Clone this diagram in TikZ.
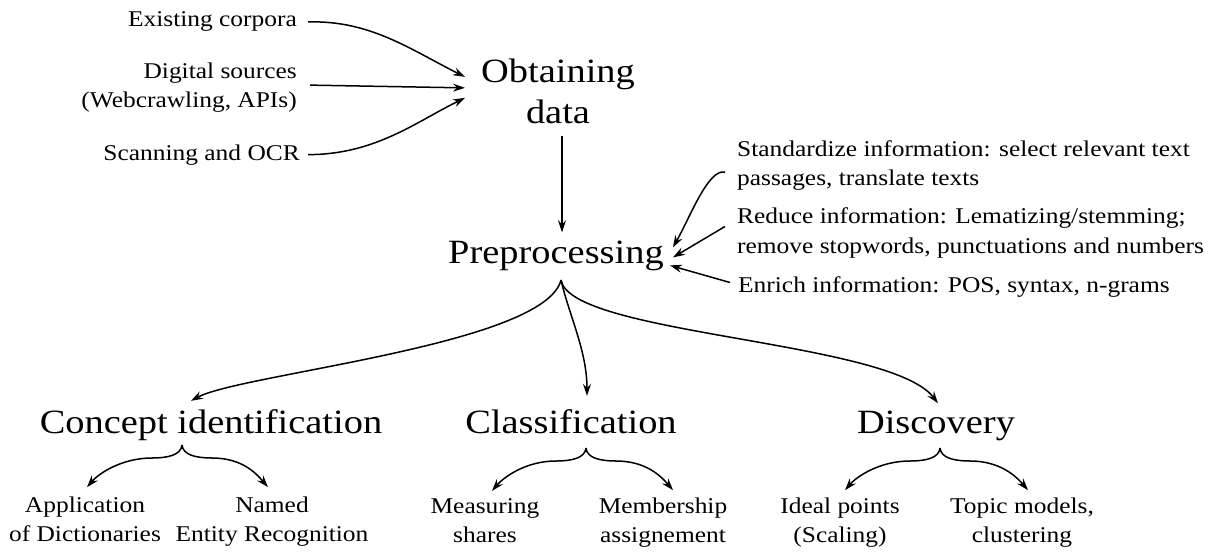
\documentclass[tikz,border=0pt]{standalone}
\usepackage{fontspec}
\setmainfont{Liberation Serif}[FakeStretch=1.13]
\usetikzlibrary{arrows.meta,calc}
\begin{document}
\begin{tikzpicture}[x=1pt,y=-1pt,
  lbl/.style={inner sep=0pt, font=\fontsize{22.5}{29}\selectfont},
  ttl/.style={inner sep=0pt, font=\fontsize{34}{41}\selectfont},
  arr/.style={line width=1.5pt, -{Stealth[length=12pt,width=8pt,inset=4pt]}},
]
\path[use as bounding box, fill=white] (0,0) rectangle (1225,551);

% sources (multi-line nodes: base = last line)
\node[lbl, anchor=base east] (ec) at (297,27) {Existing corpora};
\node[lbl, anchor=base east, align=right] (ds) at (297,107) {Digital sources\\(Webcrawling, APIs)};
\node[lbl, anchor=base east] (sc) at (300,160) {Scanning and OCR};

% main steps
\node[ttl, anchor=base, align=center] (ob) at (558,123) {Obtaining\\data};
\node[ttl, anchor=base] (pre) at (556,263) {Preprocessing};

% preprocessing annotations
\node[lbl, anchor=base west, align=left] (st) at (737,185) {Standardize information: select relevant text\\passages, translate texts};
\node[lbl, anchor=base west, align=left, font=\fontsize{22.5}{30}\selectfont] (rd) at (737,253) {Reduce information: Lematizing/stemming;\\remove stopwords, punctuations and numbers};
\node[lbl, anchor=base west] (en) at (738,292) {Enrich information: POS, syntax, n-grams};

% methods
\node[ttl, anchor=base] (ci) at (211,433) {Concept identification};
\node[ttl, anchor=base] (cl) at (571,433) {Classification};
\node[ttl, anchor=base] (di) at (936,433) {Discovery};

% sub-methods
\node[lbl, anchor=base, align=center] (ad) at (85,541) {Application\\of Dictionaries};
\node[lbl, anchor=base, align=center] (ne) at (272,541) {Named\\Entity Recognition};
\node[lbl, anchor=base, align=center] (ms) at (485,542) {Measuring\\shares};
\node[lbl, anchor=base, align=center] (mb) at (663,542) {Membership\\assignement};
\node[lbl, anchor=base, align=center] (ip) at (840,542) {Ideal points\\(Scaling)};
\node[lbl, anchor=base, align=center] (tm) at (1022,542) {Topic models,\\clustering};

% source arrows
\draw[arr] ($(ec.east)+(11,0)$) .. controls +(62,-2) and +(-54,-27) .. ($(ob.west)+(-16,-14)$);
\draw[arr] ($(ds.east)+(13,-2)$) -- ($(ob.west)+(-16,-3)$);
\draw[arr] ($(sc.east)+(8,0)$) .. controls +(67,0) and +(-49,24) .. ($(ob.west)+(-16,7)$);

% obtaining -> preprocessing
\draw[arr] ($(ob.south)+(4,12)$) -- ($(pre.north)+(6,-8)$);

% annotation arrows
\draw[arr] ($(st.west)+(-12,7)$) .. controls +(-17,-3) and +(18,-32) .. ($(pre.east)+(9,-8)$);
\draw[arr] ($(rd.west)+(-12,-6)$) -- ($(pre.east)+(9,2)$);
\draw[arr] ($(en.west)+(-8,-4)$) -- ($(pre.east)+(6,10)$);

% fork to methods
\coordinate (F) at ($(pre.base)+(5,17)$);
\draw[arr] (F) .. controls +(-16,65) and +(49,-27) .. ($(ci.north)+(-20,-8)$);
\draw[arr] (F) .. controls +(8,35) and +(0,-45) .. ($(cl.north)+(16,-13)$);
\draw[arr] (F) .. controls +(9,55) and +(-48,-63) .. ($(di.north)+(2,-7)$);

% braces
\coordinate (T1) at ($(ci.base)+(-29,12)$);
\coordinate (T2) at ($(cl.base)+(15,15)$);
\coordinate (T3) at ($(di.base)+(4,15)$);
\draw[arr] (T1) .. controls +(-1,10) and +(16,0) .. ++(-30,13) .. controls +(-30,0) and +(12,-14) .. ($(ad.north)+(2,-9)$);
\draw[arr] (T1) .. controls +(1,10) and +(-16,0) .. ++(30,13) .. controls +(30,0) and +(-12,-14) .. ($(ne.north)+(-4,-9)$);
\draw[arr] (T2) .. controls +(-1,10) and +(16,0) .. ++(-30,13) .. controls +(-30,0) and +(12,-14) .. ($(ms.north)+(7,-7)$);
\draw[arr] (T2) .. controls +(1,10) and +(-16,0) .. ++(30,13) .. controls +(30,0) and +(-12,-14) .. ($(mb.north)+(10,-7)$);
\draw[arr] (T3) .. controls +(-1,10) and +(16,0) .. ++(-30,13) .. controls +(-30,0) and +(12,-14) .. ($(ip.north)+(5,-7)$);
\draw[arr] (T3) .. controls +(1,10) and +(-16,0) .. ++(30,13) .. controls +(30,0) and +(-12,-14) .. ($(tm.north)+(6,-7)$);
\end{tikzpicture}
\end{document}
